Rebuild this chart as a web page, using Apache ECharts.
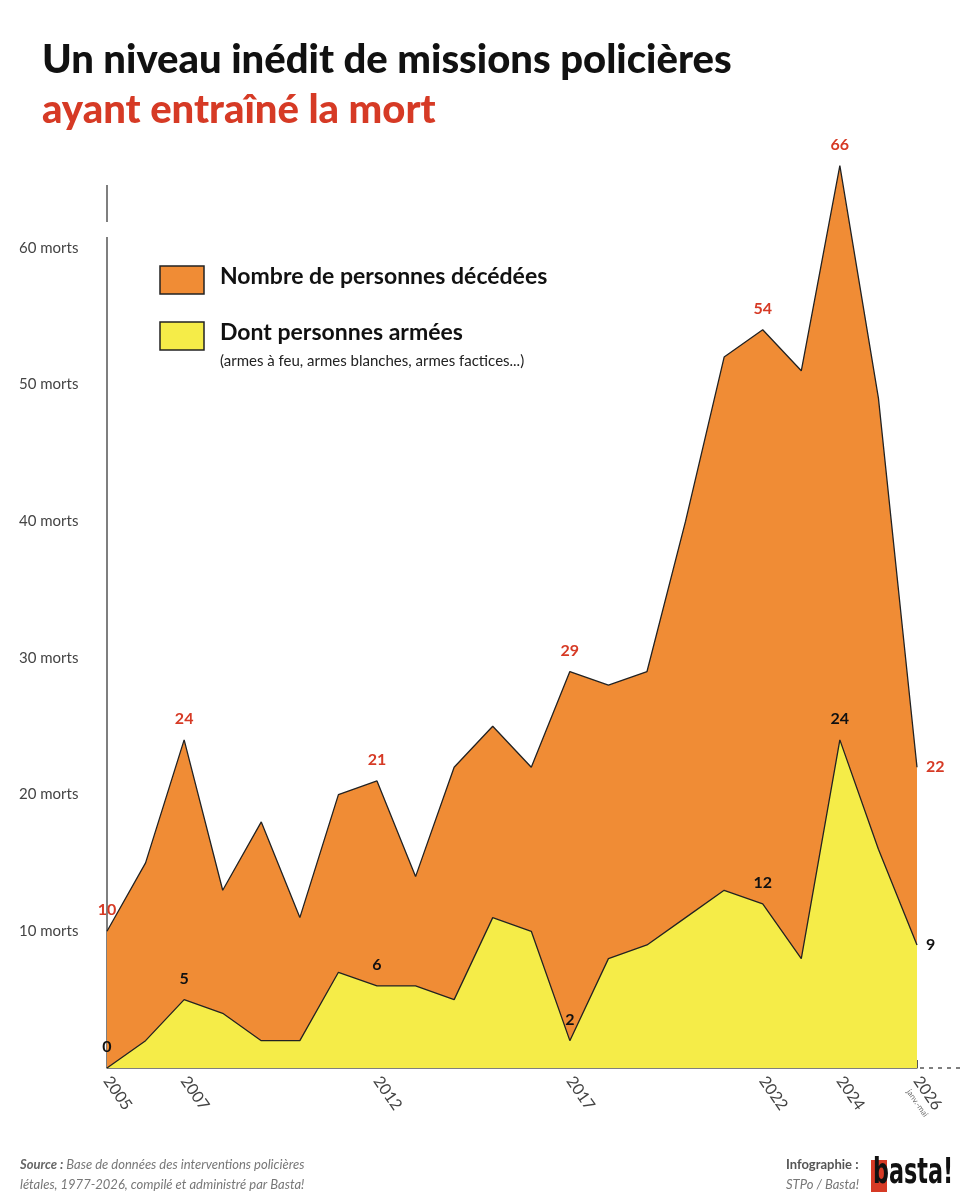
<!DOCTYPE html>
<html><head><meta charset="utf-8">
<script src="https://cdn.jsdelivr.net/npm/echarts@6/dist/echarts.min.js"></script>
<style>html,body{margin:0;padding:0;background:#fff}#c{width:977px;height:1200px}</style>
</head><body><div id="c"></div>
<script>
const years = ['2005','2006','2007','2008','2009','2010','2011','2012','2013','2014','2015','2016','2017','2018','2019','2020','2021','2022','2023','2024','2025','2026'];
const deaths = [10,15,24,13,18,11,20,21,14,22,25,22,29,28,29,40,52,54,51,66,49,22];
const armed = [0,2,5,4,2,2,7,6,6,5,11,10,2,8,9,11,13,12,8,24,16,9];
const labelYears = ['2005','2007','2012','2017','2022','2024','2026'];
const yTicks = [10,20,30,40,50,60];

const chart = echarts.init(document.getElementById('c'));
const F = 'Lato, "Open Sans", sans-serif';
function mk(vals, color){
  return vals.map((v,i)=>{
    const show = labelYears.includes(years[i]);
    const last = i===years.length-1;
    return {value:v, label:{show:show, position: last?'right':'top', distance: last?8:12,
      fontFamily:F, fontWeight:'bold', fontSize:16, color:color}};
  });
}
chart.setOption({
  animation:false,
  grid:{left:107,right:60,top:111,bottom:132},
  xAxis:{type:'category',data:years,boundaryGap:false,
    axisLine:{lineStyle:{color:'#555',width:1.5}},
    axisTick:{show:true,inside:true,length:8,interval:0,lineStyle:{color:'#555'}},
    axisLabel:{interval:0,rotate:-55,margin:10,fontFamily:F,fontSize:16,color:'#444',
      formatter:v=>labelYears.includes(v)?v:''}},
  yAxis:{type:'value',min:0,max:70,interval:10,
    axisLine:{show:false},splitLine:{show:false},axisTick:{show:false},
    axisLabel:{align:'left',margin:88,fontFamily:F,fontSize:15,color:'#444',
      formatter:v=>yTicks.includes(v)?v+' morts':''}},
  series:[
    {type:'line',data:mk(deaths,'#d63a25'),symbol:'circle',symbolSize:2,showSymbol:true,
     itemStyle:{color:'rgba(0,0,0,0)',borderWidth:0},z:1,
     lineStyle:{color:'#222',width:1.3},areaStyle:{color:'#f08c35',opacity:1}},
    {type:'line',data:mk(armed,'#111'),symbol:'circle',symbolSize:2,showSymbol:true,
     itemStyle:{color:'rgba(0,0,0,0)',borderWidth:0},z:2,
     lineStyle:{color:'#222',width:1.3},areaStyle:{color:'#f5ec48',opacity:1}}
  ],
  graphic:[
    {type:'text',left:42,top:40,style:{text:'Un niveau inédit de missions policières',font:'900 40px '+F,fill:'#111'}},
    {type:'text',left:42,top:90,style:{text:'ayant entraîné la mort',font:'900 40px '+F,fill:'#d63a25'}},
    {type:'line',shape:{x1:107,y1:185,x2:107,y2:222},style:{stroke:'#555',lineWidth:1.5}},
    {type:'line',shape:{x1:107,y1:237,x2:107,y2:1068},style:{stroke:'#555',lineWidth:1.5}},
    {type:'line',shape:{x1:920,y1:1068,x2:962,y2:1068},style:{stroke:'#555',lineWidth:1.5,lineDash:[4,5]}},
    {type:'rect',shape:{x:160,y:266,width:44,height:28},style:{fill:'#f08c35',stroke:'#222',lineWidth:1.5}},
    {type:'text',left:220,top:265,style:{text:'Nombre de personnes décédées',font:'bold 23px '+F,fill:'#111'}},
    {type:'rect',shape:{x:160,y:322,width:44,height:28},style:{fill:'#f5ec48',stroke:'#222',lineWidth:1.5}},
    {type:'text',left:220,top:321,style:{text:'Dont personnes armées',font:'bold 23px '+F,fill:'#111'}},
    {type:'text',left:220,top:354,style:{text:'(armes à feu, armes blanches, armes factices...)',font:'15px '+F,fill:'#222'}},
    {type:'text',left:905,top:1088,rotation:-55*Math.PI/180,style:{text:'janv.-mai',font:'8px '+F,fill:'#666'}},
    {type:'text',left:20,top:1158,style:{text:'{b|Source :} Base de données des interventions policières',rich:{b:{font:'bold italic 13px '+F,fill:'#666'}},font:'italic 13px '+F,fill:'#777'}},
    {type:'text',left:20,top:1178,style:{text:'létales, 1977-2026, compilé et administré par Basta!',font:'italic 13px '+F,fill:'#777'}},
    {type:'text',left:786,top:1158,style:{text:'Infographie :',font:'bold 13px '+F,fill:'#555'}},
    {type:'text',left:786,top:1178,style:{text:'STPo / Basta!',font:'italic 13px '+F,fill:'#777'}},
    {type:'rect',shape:{x:871,y:1160,width:16,height:32},style:{fill:'#d63a25'}},
    {type:'text',x:873,y:1156,scaleX:0.62,style:{text:'basta!',font:'bold 36px "DejaVu Sans", sans-serif',fill:'#111'}}
  ]
});
</script></body></html>
